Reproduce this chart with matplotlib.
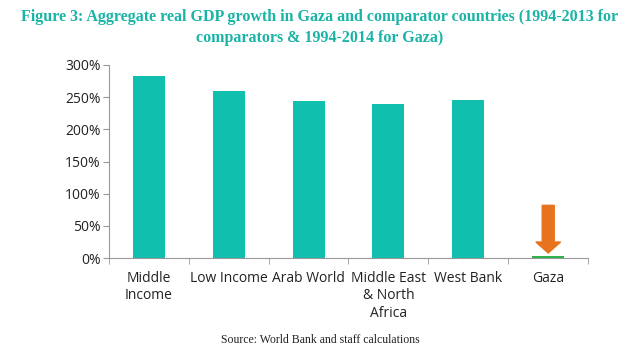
import matplotlib
matplotlib.use("Agg")
import matplotlib.pyplot as plt
import numpy as np

categories = ["Middle\nIncome", "Low Income", "Arab World", "Middle East\n& North\nAfrica", "West Bank", "Gaza"]
growth_pct = [283, 259, 244, 239, 245, 4]
bar_colors = ["#10bfad"] * 5 + ["#2db34a"]
yticks = [0, 50, 100, 150, 200, 250, 300]

arrow_top = 82
arrow_tip = 8

fig = plt.figure(figsize=(6.4, 3.57), dpi=100)
ax = fig.add_axes([0.170, 0.277, 0.749, 0.541])

x = np.arange(len(categories))
ax.bar(x, growth_pct, width=0.4, color=bar_colors, zorder=2)

ax.arrow(x[-1], arrow_top, 0, -(arrow_top - arrow_tip), width=0.15, head_width=0.31,
         head_length=17, length_includes_head=True, color="#e8731e", zorder=3)

ax.set_xlim(-0.5, len(categories) - 0.5)
ax.set_ylim(0, 300)
ax.set_yticks(yticks)
ax.set_yticklabels([f"{v}%" for v in yticks], fontsize=10, family="Open Sans", color="#222222")
ax.set_xticks(x)
ax.set_xticklabels(categories, fontsize=10, family="Open Sans", color="#222222", linespacing=1.25)
ax.set_xticks(np.arange(-0.5, len(categories)), minor=True)
ax.tick_params(axis="x", which="major", length=0, pad=9)
ax.tick_params(axis="x", which="minor", length=4, color="#999999", direction="out")
ax.tick_params(axis="y", length=4, color="#999999", direction="out", pad=2)

for s in ["top", "right"]:
    ax.spines[s].set_visible(False)
for s in ["left", "bottom"]:
    ax.spines[s].set_color("#999999")
    ax.spines[s].set_linewidth(0.8)

fig.text(0.5, 0.923, "Figure 3: Aggregate real GDP growth in Gaza and comparator countries (1994-2013 for\ncomparators & 1994-2014 for Gaza)",
         ha="center", va="center", fontsize=11.5, fontweight="bold", family="Liberation Serif",
         color="#1ab3a6", linespacing=1.45)
fig.text(0.5, 0.048, "Source: World Bank and staff calculations", ha="center", va="center",
         fontsize=8.5, family="Liberation Serif", color="#222222")

fig.savefig("out.png", dpi=100)
